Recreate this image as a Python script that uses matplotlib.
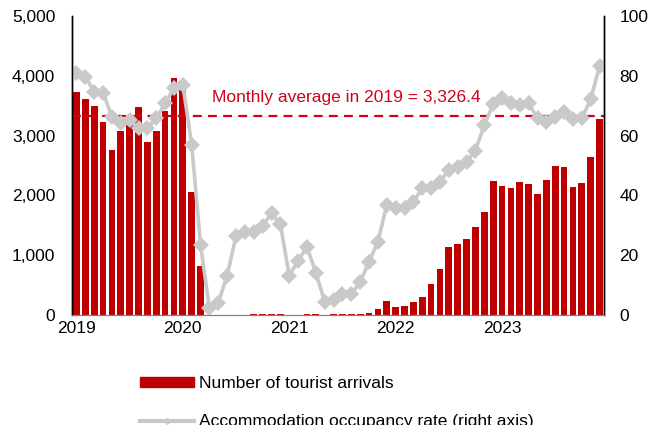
import matplotlib
matplotlib.use("Agg")
import matplotlib.pyplot as plt
from matplotlib.patches import Patch
from matplotlib.lines import Line2D
from matplotlib.ticker import FuncFormatter

plt.rcParams['font.family'] = ['Liberation Sans', 'DejaVu Sans']

# Monthly data Jan 2019 - Dec 2023
year_labels = ['2019', '2020', '2021', '2022', '2023']

# tourist arrivals (left axis)
arrivals = [
    3724, 3612, 3495, 3233, 2759, 3072, 3190, 3484, 2899, 3082, 3409, 3958,
    3800, 2062, 819, 0, 0, 0, 5, 8, 10, 12, 12, 10,
    8, 8, 10, 10, 8, 10, 12, 15, 20, 30, 95, 234,
    134, 156, 212, 296, 513, 774, 1137, 1187, 1266, 1477, 1728, 2246,
    2157, 2124, 2229, 2190, 2023, 2252, 2497, 2475, 2140, 2202, 2647, 3272,
]

# accommodation occupancy rate, % (right axis)
occupancy = [
    81.0, 79.7, 74.7, 74.4, 66.3, 64.1, 65.2, 62.4, 62.4, 65.8, 70.8, 76.0,
    77.0, 57.0, 23.4, 2.2, 4.1, 13.2, 26.4, 27.9, 27.9, 29.8, 34.0, 30.4,
    13.2, 18.1, 22.8, 14.1, 4.5, 5.0, 6.9, 6.9, 11.1, 17.8, 24.5, 36.8,
    35.7, 35.7, 37.9, 42.4, 42.4, 44.6, 48.5, 49.6, 51.3, 55.0, 63.5, 70.5,
    72.5, 70.8, 70.2, 70.8, 65.8, 64.7, 66.3, 68.0, 65.4, 65.8, 72.1, 83.3,
]

avg_2019 = 3326.4

RED = '#C00000'
LINE_RED = '#D0021B'
GRAY = '#C9C9C9'
FS = 12.5

fig = plt.figure(figsize=(6.65, 4.25), dpi=100)
ax = fig.add_axes([72 / 665, 1 - 315 / 425, 532 / 665, 299 / 425])
ax2 = ax.twinx()

x = list(range(len(arrivals)))
ax.bar(x, arrivals, width=0.76, color=RED, zorder=2)
ax.axhline(avg_2019, color=LINE_RED, lw=1.6, ls=(0, (4, 2.8)), zorder=3)
ax.text(15.3, 3640, f'Monthly average in 2019 = {avg_2019:,.1f}', color=LINE_RED,
        fontsize=FS, va='center', ha='left')

ax2.plot(x, occupancy, color=GRAY, lw=2.6, marker='D', markersize=8,
         markeredgewidth=0)

ax.set_xlim(-0.5, len(arrivals) - 0.5)
ax.set_ylim(0, 5000)
ax2.set_ylim(0, 100)
ax.set_yticks(range(0, 5001, 1000))
ax.yaxis.set_major_formatter(FuncFormatter(lambda v, p: f'{int(v):,}'))
ax2.set_yticks(range(0, 101, 20))
ax.set_xticks([12 * i for i in range(len(year_labels))])
ax.set_xticklabels(year_labels)

ax.tick_params(axis='y', length=0, pad=12, labelsize=FS)
ax.tick_params(axis='x', length=0, pad=4, labelsize=FS)
ax2.tick_params(axis='y', length=0, pad=11, labelsize=FS)

for a in (ax, ax2):
    a.spines['top'].set_visible(False)
    a.spines['left'].set_color('black')
    a.spines['right'].set_color('black')
    a.spines['bottom'].set_color('#808080')
    a.spines['left'].set_linewidth(1.0)
    a.spines['right'].set_linewidth(1.0)

handles = [Patch(color=RED),
           Line2D([], [], color=GRAY, lw=3, marker='D', markersize=3)]
labels = ['Number of tourist arrivals', 'Accommodation occupancy rate (right axis)']
fig.legend(handles, labels, loc='upper left', bbox_to_anchor=(140 / 665, 1 - 376 / 425),
           frameon=False, fontsize=FS, borderpad=0, borderaxespad=0,
           handlelength=3.1, handleheight=0.5, handletextpad=0.3, labelspacing=1.34)

fig.savefig('out.png', dpi=100)
